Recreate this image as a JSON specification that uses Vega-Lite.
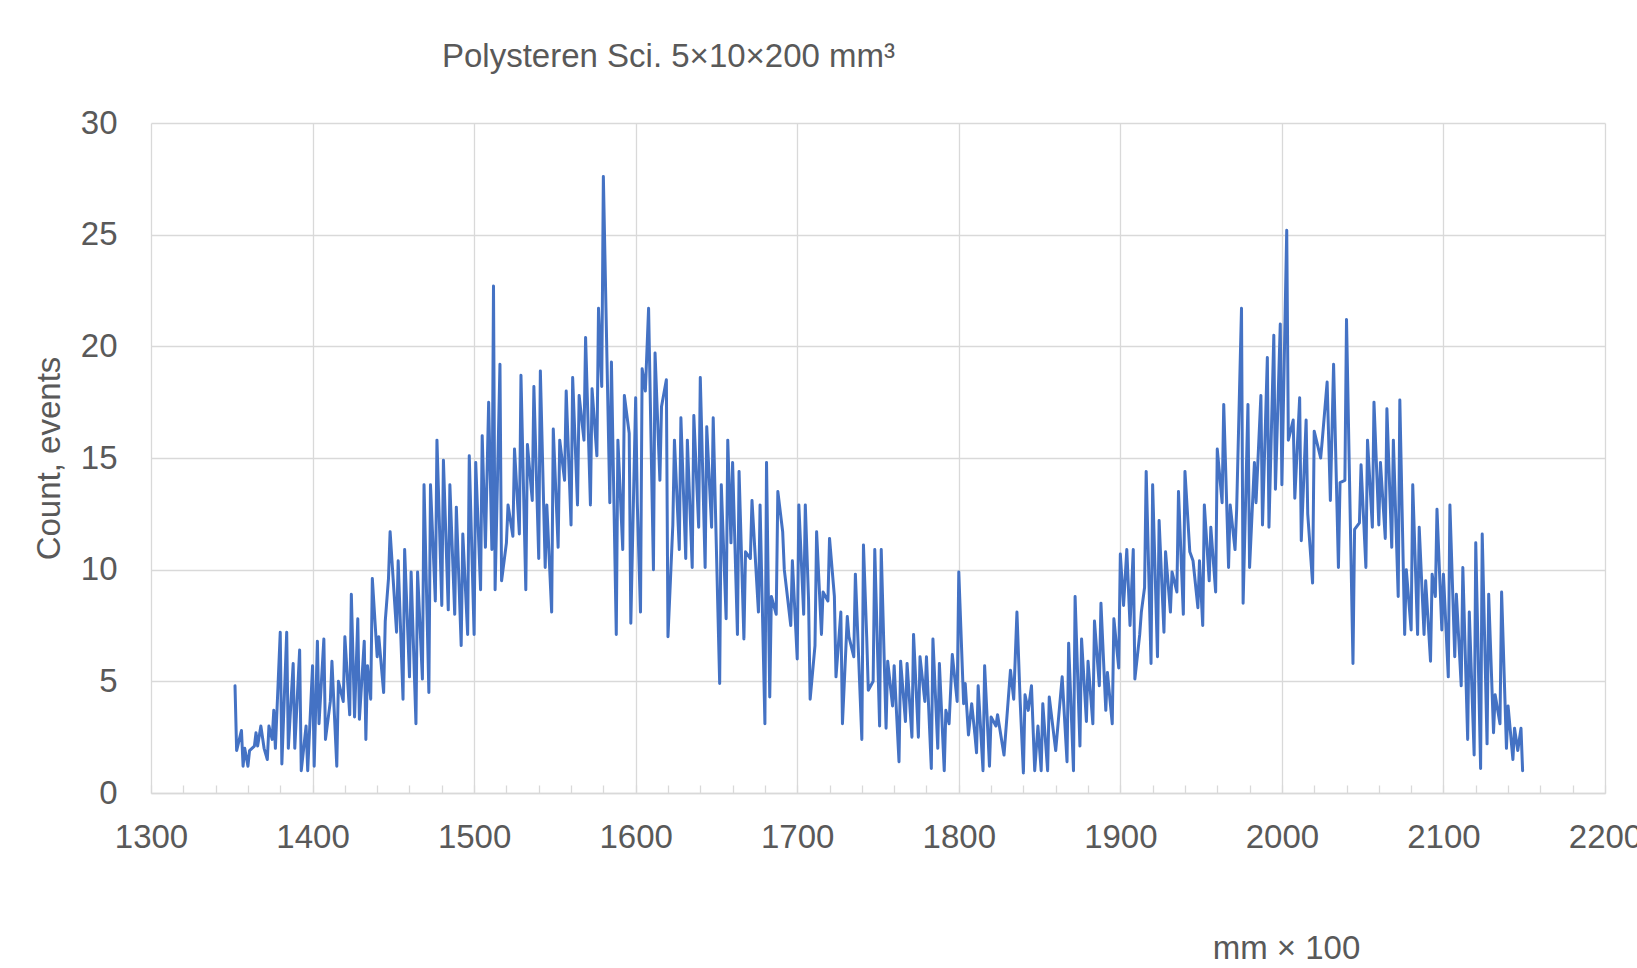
{
  "$schema": "https://vega.github.io/schema/vega-lite/v6.json",
  "width": 1454,
  "height": 670,
  "autosize": {"type": "none"},
  "padding": {"left": 151, "top": 123, "right": 32, "bottom": 175},
  "background": "white",
  "config": {
    "view": {"stroke": null},
    "font": "Liberation Sans"
  },
  "title": {
    "text": "Polysteren Sci. 5×10×200 mm³",
    "anchor": "start",
    "frame": "group",
    "dx": 291,
    "offset": 33,
    "font": "Liberation Sans",
    "fontSize": 33,
    "fontWeight": "normal",
    "color": "#595959"
  },
  "data": {
    "values": [
      {"x":1352,"y":4.8},{"x":1353,"y":1.9},{"x":1356,"y":2.8},{"x":1357,"y":1.2},{"x":1358,"y":2.0},{"x":1360,"y":1.2},{"x":1361,"y":1.9},{"x":1364,"y":2.1},{"x":1365,"y":2.7},{"x":1366,"y":2.1},{"x":1368,"y":3.0},{"x":1370,"y":2.0},{"x":1372,"y":1.5},{"x":1373,"y":3.0},{"x":1375,"y":2.4},{"x":1376,"y":3.7},{"x":1377,"y":2.0},{"x":1380,"y":7.2},{"x":1381,"y":1.3},{"x":1384,"y":7.2},{"x":1385,"y":2.0},{"x":1388,"y":5.8},{"x":1389,"y":2.0},{"x":1392,"y":6.4},{"x":1393,"y":1.0},{"x":1396,"y":3.0},{"x":1397,"y":1.0},{"x":1400,"y":5.7},{"x":1401,"y":1.2},{"x":1403,"y":6.8},{"x":1404,"y":3.1},{"x":1407,"y":6.9},{"x":1408,"y":2.4},{"x":1411,"y":4.1},{"x":1412,"y":5.9},{"x":1415,"y":1.2},{"x":1416,"y":5.0},{"x":1419,"y":4.1},{"x":1420,"y":7.0},{"x":1423,"y":3.5},{"x":1424,"y":8.9},{"x":1426,"y":3.4},{"x":1428,"y":7.8},{"x":1429,"y":3.3},{"x":1432,"y":6.8},{"x":1433,"y":2.4},{"x":1434,"y":5.7},{"x":1436,"y":4.2},{"x":1437,"y":9.6},{"x":1440,"y":6.1},{"x":1441,"y":7.0},{"x":1444,"y":4.5},{"x":1445,"y":7.7},{"x":1447,"y":9.6},{"x":1448,"y":11.7},{"x":1452,"y":7.2},{"x":1453,"y":10.4},{"x":1456,"y":4.2},{"x":1457,"y":10.9},{"x":1460,"y":5.2},{"x":1461,"y":9.9},{"x":1464,"y":3.1},{"x":1465,"y":9.9},{"x":1468,"y":5.1},{"x":1469,"y":13.8},{"x":1472,"y":4.5},{"x":1473,"y":13.8},{"x":1476,"y":8.6},{"x":1477,"y":15.8},{"x":1480,"y":8.4},{"x":1481,"y":14.9},{"x":1484,"y":8.2},{"x":1485,"y":13.8},{"x":1488,"y":8.0},{"x":1489,"y":12.8},{"x":1492,"y":6.6},{"x":1493,"y":11.6},{"x":1496,"y":7.1},{"x":1497,"y":15.1},{"x":1500,"y":7.1},{"x":1501,"y":14.8},{"x":1504,"y":9.1},{"x":1505,"y":16.0},{"x":1507,"y":11.0},{"x":1509,"y":17.5},{"x":1511,"y":10.9},{"x":1512,"y":22.7},{"x":1513,"y":9.1},{"x":1516,"y":19.2},{"x":1517,"y":9.5},{"x":1520,"y":11.2},{"x":1521,"y":12.9},{"x":1524,"y":11.5},{"x":1525,"y":15.4},{"x":1528,"y":11.6},{"x":1529,"y":18.7},{"x":1532,"y":9.1},{"x":1533,"y":15.6},{"x":1536,"y":13.1},{"x":1537,"y":18.2},{"x":1540,"y":10.5},{"x":1541,"y":18.9},{"x":1544,"y":10.1},{"x":1545,"y":12.9},{"x":1548,"y":8.1},{"x":1549,"y":16.3},{"x":1552,"y":11.0},{"x":1553,"y":15.8},{"x":1556,"y":14.0},{"x":1557,"y":18.0},{"x":1560,"y":12.0},{"x":1561,"y":18.6},{"x":1564,"y":12.9},{"x":1565,"y":17.8},{"x":1568,"y":15.8},{"x":1569,"y":20.4},{"x":1572,"y":12.9},{"x":1573,"y":18.1},{"x":1576,"y":15.1},{"x":1577,"y":21.7},{"x":1579,"y":18.2},{"x":1580,"y":27.6},{"x":1584,"y":13.0},{"x":1585,"y":19.3},{"x":1588,"y":7.1},{"x":1589,"y":15.8},{"x":1592,"y":10.9},{"x":1593,"y":17.8},{"x":1596,"y":16.1},{"x":1597,"y":7.6},{"x":1600,"y":17.7},{"x":1601,"y":13.0},{"x":1603,"y":8.1},{"x":1604,"y":19.0},{"x":1606,"y":18.0},{"x":1608,"y":21.7},{"x":1611,"y":10.0},{"x":1612,"y":19.7},{"x":1615,"y":14.0},{"x":1616,"y":17.3},{"x":1619,"y":18.5},{"x":1620,"y":7.0},{"x":1623,"y":12.0},{"x":1624,"y":15.8},{"x":1627,"y":10.9},{"x":1628,"y":16.8},{"x":1631,"y":10.5},{"x":1632,"y":15.8},{"x":1635,"y":10.1},{"x":1636,"y":16.9},{"x":1639,"y":11.9},{"x":1640,"y":18.6},{"x":1643,"y":10.1},{"x":1644,"y":16.4},{"x":1647,"y":11.9},{"x":1648,"y":16.8},{"x":1652,"y":4.9},{"x":1653,"y":13.8},{"x":1656,"y":7.8},{"x":1657,"y":15.8},{"x":1659,"y":11.2},{"x":1660,"y":14.8},{"x":1663,"y":7.1},{"x":1664,"y":14.4},{"x":1667,"y":6.9},{"x":1668,"y":10.8},{"x":1671,"y":10.5},{"x":1672,"y":13.1},{"x":1676,"y":8.1},{"x":1677,"y":12.9},{"x":1680,"y":3.1},{"x":1681,"y":14.8},{"x":1683,"y":4.3},{"x":1684,"y":8.8},{"x":1687,"y":8.0},{"x":1688,"y":13.5},{"x":1691,"y":11.7},{"x":1692,"y":10.0},{"x":1696,"y":7.5},{"x":1697,"y":10.4},{"x":1700,"y":6.0},{"x":1701,"y":12.9},{"x":1704,"y":8.0},{"x":1705,"y":12.9},{"x":1707,"y":8.7},{"x":1708,"y":4.2},{"x":1711,"y":6.6},{"x":1712,"y":11.7},{"x":1715,"y":7.1},{"x":1716,"y":9.0},{"x":1719,"y":8.6},{"x":1720,"y":11.4},{"x":1723,"y":8.8},{"x":1724,"y":5.2},{"x":1727,"y":8.1},{"x":1728,"y":3.1},{"x":1731,"y":7.9},{"x":1732,"y":7.0},{"x":1735,"y":6.1},{"x":1736,"y":9.8},{"x":1740,"y":2.4},{"x":1741,"y":11.1},{"x":1743,"y":7.0},{"x":1744,"y":4.6},{"x":1747,"y":5.0},{"x":1748,"y":10.9},{"x":1751,"y":3.0},{"x":1752,"y":10.9},{"x":1755,"y":2.9},{"x":1756,"y":5.9},{"x":1759,"y":3.9},{"x":1760,"y":5.7},{"x":1763,"y":1.4},{"x":1764,"y":5.9},{"x":1767,"y":3.2},{"x":1768,"y":5.8},{"x":1771,"y":2.5},{"x":1772,"y":7.1},{"x":1775,"y":2.5},{"x":1776,"y":6.1},{"x":1779,"y":4.1},{"x":1780,"y":6.1},{"x":1783,"y":1.1},{"x":1784,"y":6.9},{"x":1787,"y":2.0},{"x":1788,"y":5.8},{"x":1791,"y":1.0},{"x":1792,"y":3.7},{"x":1794,"y":3.1},{"x":1796,"y":6.2},{"x":1799,"y":4.1},{"x":1800,"y":9.9},{"x":1803,"y":4.0},{"x":1804,"y":4.9},{"x":1806,"y":2.6},{"x":1808,"y":4.0},{"x":1810,"y":2.6},{"x":1811,"y":1.8},{"x":1812,"y":4.8},{"x":1815,"y":1.0},{"x":1816,"y":5.7},{"x":1819,"y":1.2},{"x":1820,"y":3.4},{"x":1823,"y":3.0},{"x":1824,"y":3.5},{"x":1828,"y":1.7},{"x":1832,"y":5.5},{"x":1834,"y":4.2},{"x":1836,"y":8.1},{"x":1838,"y":4.1},{"x":1840,"y":0.9},{"x":1841,"y":4.4},{"x":1843,"y":3.7},{"x":1845,"y":4.8},{"x":1847,"y":1.0},{"x":1849,"y":3.0},{"x":1851,"y":1.0},{"x":1852,"y":4.0},{"x":1855,"y":1.0},{"x":1856,"y":4.3},{"x":1860,"y":1.9},{"x":1864,"y":5.2},{"x":1867,"y":1.4},{"x":1868,"y":6.7},{"x":1871,"y":1.0},{"x":1872,"y":8.8},{"x":1875,"y":2.1},{"x":1876,"y":6.9},{"x":1879,"y":3.2},{"x":1880,"y":5.9},{"x":1883,"y":3.1},{"x":1884,"y":7.7},{"x":1887,"y":4.8},{"x":1888,"y":8.5},{"x":1891,"y":3.7},{"x":1892,"y":5.4},{"x":1895,"y":3.1},{"x":1896,"y":7.8},{"x":1899,"y":5.6},{"x":1900,"y":10.7},{"x":1902,"y":8.4},{"x":1904,"y":10.9},{"x":1906,"y":7.5},{"x":1908,"y":10.9},{"x":1909,"y":5.1},{"x":1912,"y":7.1},{"x":1913,"y":8.1},{"x":1915,"y":9.2},{"x":1916,"y":14.4},{"x":1919,"y":5.8},{"x":1920,"y":13.8},{"x":1923,"y":6.1},{"x":1924,"y":12.2},{"x":1927,"y":7.2},{"x":1928,"y":10.8},{"x":1931,"y":8.1},{"x":1932,"y":9.9},{"x":1935,"y":9.0},{"x":1936,"y":13.5},{"x":1939,"y":8.0},{"x":1940,"y":14.4},{"x":1943,"y":10.8},{"x":1945,"y":10.4},{"x":1948,"y":8.3},{"x":1949,"y":10.4},{"x":1951,"y":7.5},{"x":1952,"y":12.9},{"x":1955,"y":9.5},{"x":1956,"y":11.9},{"x":1959,"y":9.0},{"x":1960,"y":15.4},{"x":1963,"y":13.0},{"x":1964,"y":17.4},{"x":1967,"y":10.1},{"x":1968,"y":12.9},{"x":1971,"y":10.9},{"x":1972,"y":12.7},{"x":1975,"y":21.7},{"x":1976,"y":8.5},{"x":1979,"y":17.4},{"x":1980,"y":10.1},{"x":1983,"y":14.8},{"x":1984,"y":13.0},{"x":1987,"y":17.8},{"x":1988,"y":12.0},{"x":1991,"y":19.5},{"x":1992,"y":11.9},{"x":1995,"y":20.5},{"x":1996,"y":13.6},{"x":1999,"y":21.0},{"x":2000,"y":13.8},{"x":2003,"y":25.2},{"x":2004,"y":15.8},{"x":2007,"y":16.7},{"x":2008,"y":13.2},{"x":2011,"y":17.7},{"x":2012,"y":11.3},{"x":2015,"y":16.7},{"x":2016,"y":12.5},{"x":2019,"y":9.4},{"x":2020,"y":16.2},{"x":2024,"y":15.0},{"x":2025,"y":15.8},{"x":2028,"y":18.4},{"x":2030,"y":13.1},{"x":2032,"y":19.2},{"x":2035,"y":10.1},{"x":2036,"y":13.9},{"x":2039,"y":14.0},{"x":2040,"y":21.2},{"x":2044,"y":5.8},{"x":2045,"y":11.8},{"x":2048,"y":12.1},{"x":2049,"y":14.7},{"x":2052,"y":10.1},{"x":2053,"y":15.8},{"x":2056,"y":11.9},{"x":2057,"y":17.5},{"x":2060,"y":12.0},{"x":2061,"y":14.8},{"x":2064,"y":11.4},{"x":2065,"y":17.2},{"x":2068,"y":11.0},{"x":2069,"y":15.8},{"x":2072,"y":8.8},{"x":2073,"y":17.6},{"x":2076,"y":7.1},{"x":2077,"y":10.0},{"x":2080,"y":7.3},{"x":2081,"y":13.8},{"x":2084,"y":7.1},{"x":2085,"y":11.9},{"x":2088,"y":7.1},{"x":2089,"y":9.5},{"x":2092,"y":5.9},{"x":2093,"y":9.8},{"x":2095,"y":8.8},{"x":2096,"y":12.7},{"x":2099,"y":7.3},{"x":2100,"y":9.8},{"x":2103,"y":5.2},{"x":2104,"y":12.9},{"x":2107,"y":6.1},{"x":2108,"y":8.9},{"x":2111,"y":4.8},{"x":2112,"y":10.1},{"x":2115,"y":2.4},{"x":2116,"y":8.1},{"x":2119,"y":1.7},{"x":2120,"y":11.2},{"x":2123,"y":1.1},{"x":2124,"y":11.6},{"x":2127,"y":2.2},{"x":2128,"y":8.9},{"x":2131,"y":2.7},{"x":2132,"y":4.4},{"x":2135,"y":3.1},{"x":2136,"y":9.0},{"x":2139,"y":2.0},{"x":2140,"y":3.9},{"x":2143,"y":1.5},{"x":2144,"y":2.9},{"x":2146,"y":1.9},{"x":2148,"y":2.9},{"x":2149,"y":1.0}
    ]
  },
  "mark": {"type": "line", "color": "#4472C4", "strokeWidth": 3, "strokeJoin": "round", "strokeCap": "round"},
  "encoding": {
    "x": {
      "field": "x",
      "type": "quantitative",
      "scale": {"domain": [1300, 2200], "nice": false, "zero": false},
      "axis": {
        "values": [1300,1320,1340,1360,1380,1400,1420,1440,1460,1480,1500,1520,1540,1560,1580,1600,1620,1640,1660,1680,1700,1720,1740,1760,1780,1800,1820,1840,1860,1880,1900,1920,1940,1960,1980,2000,2020,2040,2060,2080,2100,2120,2140,2160,2180,2200],
        "format": "d",
        "labelExpr": "datum.value % 100 === 0 ? datum.label : ''",
        "labelOverlap": false,
        "labelFlush": false,
        "labelFont": "Liberation Sans",
        "labelFontSize": 33,
        "labelColor": "#595959",
        "labelPadding": 36,
        "ticks": true,
        "tickSize": -8,
        "tickColor": "#D9D9D9",
        "tickWidth": 1.3,
        "domain": true,
        "domainColor": "#D9D9D9",
        "domainWidth": 1.5,
        "grid": true,
        "gridColor": "#D9D9D9",
        "gridWidth": 1.3,
        "gridOpacity": {"condition": {"test": "datum.value % 100 !== 0", "value": 0}, "value": 1},
        "title": "mm × 100",
        "titleFont": "Liberation Sans",
        "titleFontSize": 33,
        "titleFontWeight": "normal",
        "titleColor": "#595959",
        "titleX": 1135,
        "titleY": 155,
        "titleAlign": "center",
        "titleBaseline": "middle"
      }
    },
    "y": {
      "field": "y",
      "type": "quantitative",
      "scale": {"domain": [0, 30], "nice": false},
      "axis": {
        "values": [0, 5, 10, 15, 20, 25, 30],
        "labelFont": "Liberation Sans",
        "labelFontSize": 33,
        "labelColor": "#595959",
        "labelPadding": 34,
        "ticks": false,
        "domain": false,
        "grid": true,
        "gridColor": "#D9D9D9",
        "gridWidth": 1.3,
        "title": "Count, events",
        "titleFont": "Liberation Sans",
        "titleFontSize": 33,
        "titleFontWeight": "normal",
        "titleColor": "#595959",
        "titlePadding": 14
      }
    }
  }
}
